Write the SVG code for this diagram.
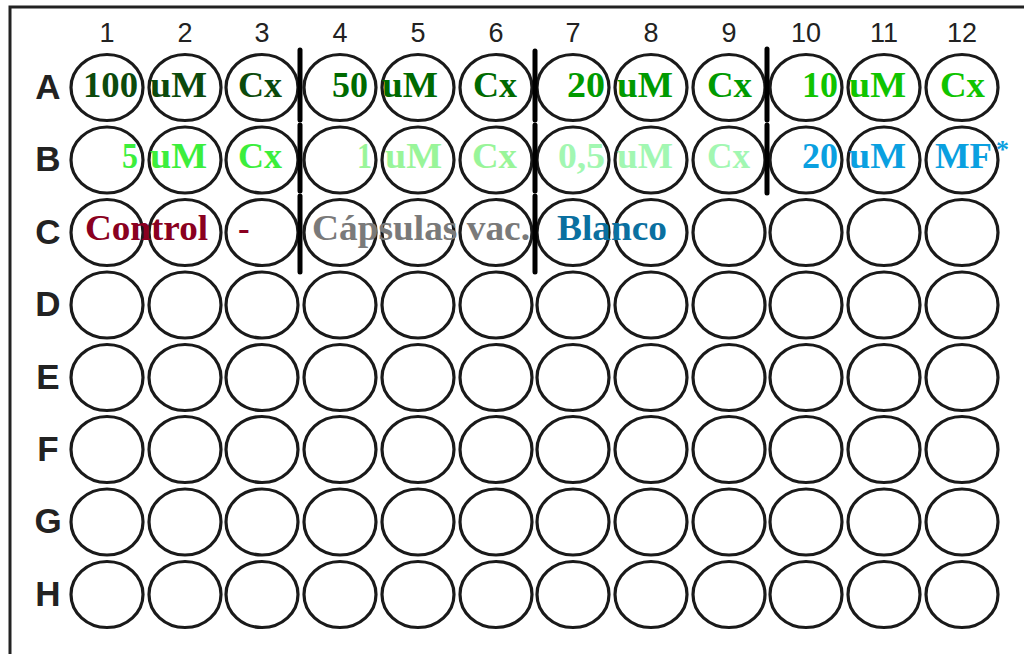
<svg xmlns="http://www.w3.org/2000/svg" width="1024" height="654" viewBox="0 0 1024 654">
<style>
.well{fill:none;stroke:#1a1a1a;stroke-width:3.2}
.col{font-family:"Liberation Sans",Arial,sans-serif;font-size:27px;fill:#222;text-anchor:middle}
.row{font-family:"Liberation Sans",Arial,sans-serif;font-size:35px;font-weight:bold;fill:#222;text-anchor:middle}
.lbl{font-family:"Liberation Serif","Times New Roman",serif;font-size:35px;font-weight:bold}
.div{stroke:#000;stroke-width:5;stroke-linecap:round}
</style>
<defs>
<ellipse id="w" cx="0" cy="0" rx="36" ry="33" class="well"/>
</defs>
<rect width="1024" height="654" fill="#fff"/>
<g id="frame" fill="none" stroke="#222" stroke-width="3">
<path d="M10,654 V7 H1024"/>
</g>
<g id="column-numbers">
<text class="col" x="107" y="42">1</text>
<text class="col" x="185" y="42">2</text>
<text class="col" x="262" y="42">3</text>
<text class="col" x="340" y="42">4</text>
<text class="col" x="418" y="42">5</text>
<text class="col" x="496" y="42">6</text>
<text class="col" x="573" y="42">7</text>
<text class="col" x="651" y="42">8</text>
<text class="col" x="729" y="42">9</text>
<text class="col" x="806" y="42">10</text>
<text class="col" x="884" y="42">11</text>
<text class="col" x="962" y="42">12</text>
</g>
<g id="row-letters">
<text class="row" x="48" y="99">A</text>
<text class="row" x="48" y="171">B</text>
<text class="row" x="48" y="244">C</text>
<text class="row" x="48" y="316">D</text>
<text class="row" x="48" y="389">E</text>
<text class="row" x="48" y="461">F</text>
<text class="row" x="48" y="533">G</text>
<text class="row" x="48" y="606">H</text>
</g>
<g id="wells">
<g id="row-A">
<use id="A1" href="#w" x="107" y="87.5"/><use id="A2" href="#w" x="185" y="87.5"/><use id="A3" href="#w" x="262" y="87.5"/><use id="A4" href="#w" x="340" y="87.5"/><use id="A5" href="#w" x="418" y="87.5"/><use id="A6" href="#w" x="496" y="87.5"/><use id="A7" href="#w" x="573" y="87.5"/><use id="A8" href="#w" x="651" y="87.5"/><use id="A9" href="#w" x="729" y="87.5"/><use id="A10" href="#w" x="806" y="87.5"/><use id="A11" href="#w" x="884" y="87.5"/><use id="A12" href="#w" x="962" y="87.5"/>
</g>
<g id="row-B">
<use id="B1" href="#w" x="107" y="160"/><use id="B2" href="#w" x="185" y="160"/><use id="B3" href="#w" x="262" y="160"/><use id="B4" href="#w" x="340" y="160"/><use id="B5" href="#w" x="418" y="160"/><use id="B6" href="#w" x="496" y="160"/><use id="B7" href="#w" x="573" y="160"/><use id="B8" href="#w" x="651" y="160"/><use id="B9" href="#w" x="729" y="160"/><use id="B10" href="#w" x="806" y="160"/><use id="B11" href="#w" x="884" y="160"/><use id="B12" href="#w" x="962" y="160"/>
</g>
<g id="row-C">
<use id="C1" href="#w" x="107" y="232.5"/><use id="C2" href="#w" x="185" y="232.5"/><use id="C3" href="#w" x="262" y="232.5"/><use id="C4" href="#w" x="340" y="232.5"/><use id="C5" href="#w" x="418" y="232.5"/><use id="C6" href="#w" x="496" y="232.5"/><use id="C7" href="#w" x="573" y="232.5"/><use id="C8" href="#w" x="651" y="232.5"/><use id="C9" href="#w" x="729" y="232.5"/><use id="C10" href="#w" x="806" y="232.5"/><use id="C11" href="#w" x="884" y="232.5"/><use id="C12" href="#w" x="962" y="232.5"/>
</g>
<g id="row-D">
<use id="D1" href="#w" x="107" y="305"/><use id="D2" href="#w" x="185" y="305"/><use id="D3" href="#w" x="262" y="305"/><use id="D4" href="#w" x="340" y="305"/><use id="D5" href="#w" x="418" y="305"/><use id="D6" href="#w" x="496" y="305"/><use id="D7" href="#w" x="573" y="305"/><use id="D8" href="#w" x="651" y="305"/><use id="D9" href="#w" x="729" y="305"/><use id="D10" href="#w" x="806" y="305"/><use id="D11" href="#w" x="884" y="305"/><use id="D12" href="#w" x="962" y="305"/>
</g>
<g id="row-E">
<use id="E1" href="#w" x="107" y="377.5"/><use id="E2" href="#w" x="185" y="377.5"/><use id="E3" href="#w" x="262" y="377.5"/><use id="E4" href="#w" x="340" y="377.5"/><use id="E5" href="#w" x="418" y="377.5"/><use id="E6" href="#w" x="496" y="377.5"/><use id="E7" href="#w" x="573" y="377.5"/><use id="E8" href="#w" x="651" y="377.5"/><use id="E9" href="#w" x="729" y="377.5"/><use id="E10" href="#w" x="806" y="377.5"/><use id="E11" href="#w" x="884" y="377.5"/><use id="E12" href="#w" x="962" y="377.5"/>
</g>
<g id="row-F">
<use id="F1" href="#w" x="107" y="449.5"/><use id="F2" href="#w" x="185" y="449.5"/><use id="F3" href="#w" x="262" y="449.5"/><use id="F4" href="#w" x="340" y="449.5"/><use id="F5" href="#w" x="418" y="449.5"/><use id="F6" href="#w" x="496" y="449.5"/><use id="F7" href="#w" x="573" y="449.5"/><use id="F8" href="#w" x="651" y="449.5"/><use id="F9" href="#w" x="729" y="449.5"/><use id="F10" href="#w" x="806" y="449.5"/><use id="F11" href="#w" x="884" y="449.5"/><use id="F12" href="#w" x="962" y="449.5"/>
</g>
<g id="row-G">
<use id="G1" href="#w" x="107" y="522"/><use id="G2" href="#w" x="185" y="522"/><use id="G3" href="#w" x="262" y="522"/><use id="G4" href="#w" x="340" y="522"/><use id="G5" href="#w" x="418" y="522"/><use id="G6" href="#w" x="496" y="522"/><use id="G7" href="#w" x="573" y="522"/><use id="G8" href="#w" x="651" y="522"/><use id="G9" href="#w" x="729" y="522"/><use id="G10" href="#w" x="806" y="522"/><use id="G11" href="#w" x="884" y="522"/><use id="G12" href="#w" x="962" y="522"/>
</g>
<g id="row-H">
<use id="H1" href="#w" x="107" y="594.5"/><use id="H2" href="#w" x="185" y="594.5"/><use id="H3" href="#w" x="262" y="594.5"/><use id="H4" href="#w" x="340" y="594.5"/><use id="H5" href="#w" x="418" y="594.5"/><use id="H6" href="#w" x="496" y="594.5"/><use id="H7" href="#w" x="573" y="594.5"/><use id="H8" href="#w" x="651" y="594.5"/><use id="H9" href="#w" x="729" y="594.5"/><use id="H10" href="#w" x="806" y="594.5"/><use id="H11" href="#w" x="884" y="594.5"/><use id="H12" href="#w" x="962" y="594.5"/>
</g>
</g>
<g id="dividers" class="div">
<line x1="300" y1="50" x2="300" y2="120"/><line x1="300" y1="125" x2="300" y2="191"/><line x1="300" y1="196" x2="300" y2="272"/>
<line x1="535" y1="51" x2="535" y2="120"/><line x1="535" y1="125" x2="535" y2="191"/><line x1="535" y1="196" x2="535" y2="272"/>
<line x1="767" y1="49" x2="767" y2="120"/><line x1="767" y1="125" x2="767" y2="193"/>
</g>
<g id="labels" class="lbl">
<g id="lbl-100uM" fill="#0c4a0c">
<text x="83" y="97" textLength="55" lengthAdjust="spacingAndGlyphs">100</text>
<text x="150" y="97" textLength="57" lengthAdjust="spacingAndGlyphs">uM</text>
<text x="238" y="97" textLength="44" lengthAdjust="spacingAndGlyphs">Cx</text>
</g>
<g id="lbl-50uM" fill="#006a00">
<text x="332" y="97" textLength="36" lengthAdjust="spacingAndGlyphs">50</text>
<text x="382" y="97" textLength="56" lengthAdjust="spacingAndGlyphs">uM</text>
<text x="473" y="97" textLength="44" lengthAdjust="spacingAndGlyphs">Cx</text>
</g>
<g id="lbl-20uM" fill="#009a00">
<text x="567" y="97" textLength="38" lengthAdjust="spacingAndGlyphs">20</text>
<text x="617" y="97" textLength="56" lengthAdjust="spacingAndGlyphs">uM</text>
<text x="707" y="97" textLength="45" lengthAdjust="spacingAndGlyphs">Cx</text>
</g>
<g id="lbl-10uM" fill="#10c400">
<text x="802" y="97" textLength="36" lengthAdjust="spacingAndGlyphs">10</text>
<text x="849" y="97" textLength="57" lengthAdjust="spacingAndGlyphs">uM</text>
<text x="940" y="97" textLength="45" lengthAdjust="spacingAndGlyphs">Cx</text>
</g>
<g id="lbl-5uM" fill="#3cee3c">
<text x="122" y="168" textLength="16" lengthAdjust="spacingAndGlyphs">5</text>
<text x="150" y="168" textLength="57" lengthAdjust="spacingAndGlyphs">uM</text>
<text x="238" y="168" textLength="44" lengthAdjust="spacingAndGlyphs">Cx</text>
</g>
<g id="lbl-1uM" fill="#99f599">
<text x="357" y="168" textLength="15" lengthAdjust="spacingAndGlyphs">1</text>
<text x="385" y="168" textLength="57" lengthAdjust="spacingAndGlyphs">uM</text>
<text x="472" y="168" textLength="45" lengthAdjust="spacingAndGlyphs">Cx</text>
</g>
<g id="lbl-05uM" fill="#a2f7b2">
<text x="558" y="168" textLength="47" lengthAdjust="spacingAndGlyphs">0,5</text>
<text x="617" y="168" textLength="56" lengthAdjust="spacingAndGlyphs">uM</text>
<text x="707" y="168" textLength="43" lengthAdjust="spacingAndGlyphs">Cx</text>
</g>
<g id="lbl-20uM-MF" fill="#0aa0e0">
<text x="802" y="168" textLength="36" lengthAdjust="spacingAndGlyphs">20</text>
<text x="849" y="168" textLength="57" lengthAdjust="spacingAndGlyphs">uM</text>
<text x="935" y="168" textLength="57" lengthAdjust="spacingAndGlyphs">MF</text>
<text x="996" y="158" font-size="26">*</text>
</g>
<g id="lbl-control" fill="#8a0020">
<text x="85" y="240" textLength="123" lengthAdjust="spacingAndGlyphs">Control</text>
<text x="238" y="240">-</text>
</g>
<text id="lbl-capsulas" x="312" y="240" fill="#7a7a7a" textLength="218" lengthAdjust="spacingAndGlyphs">Cápsulas vac.</text>
<text id="lbl-blanco" x="557" y="240" fill="#0a70a0" textLength="110" lengthAdjust="spacingAndGlyphs">Blanco</text>
</g>
</svg>
